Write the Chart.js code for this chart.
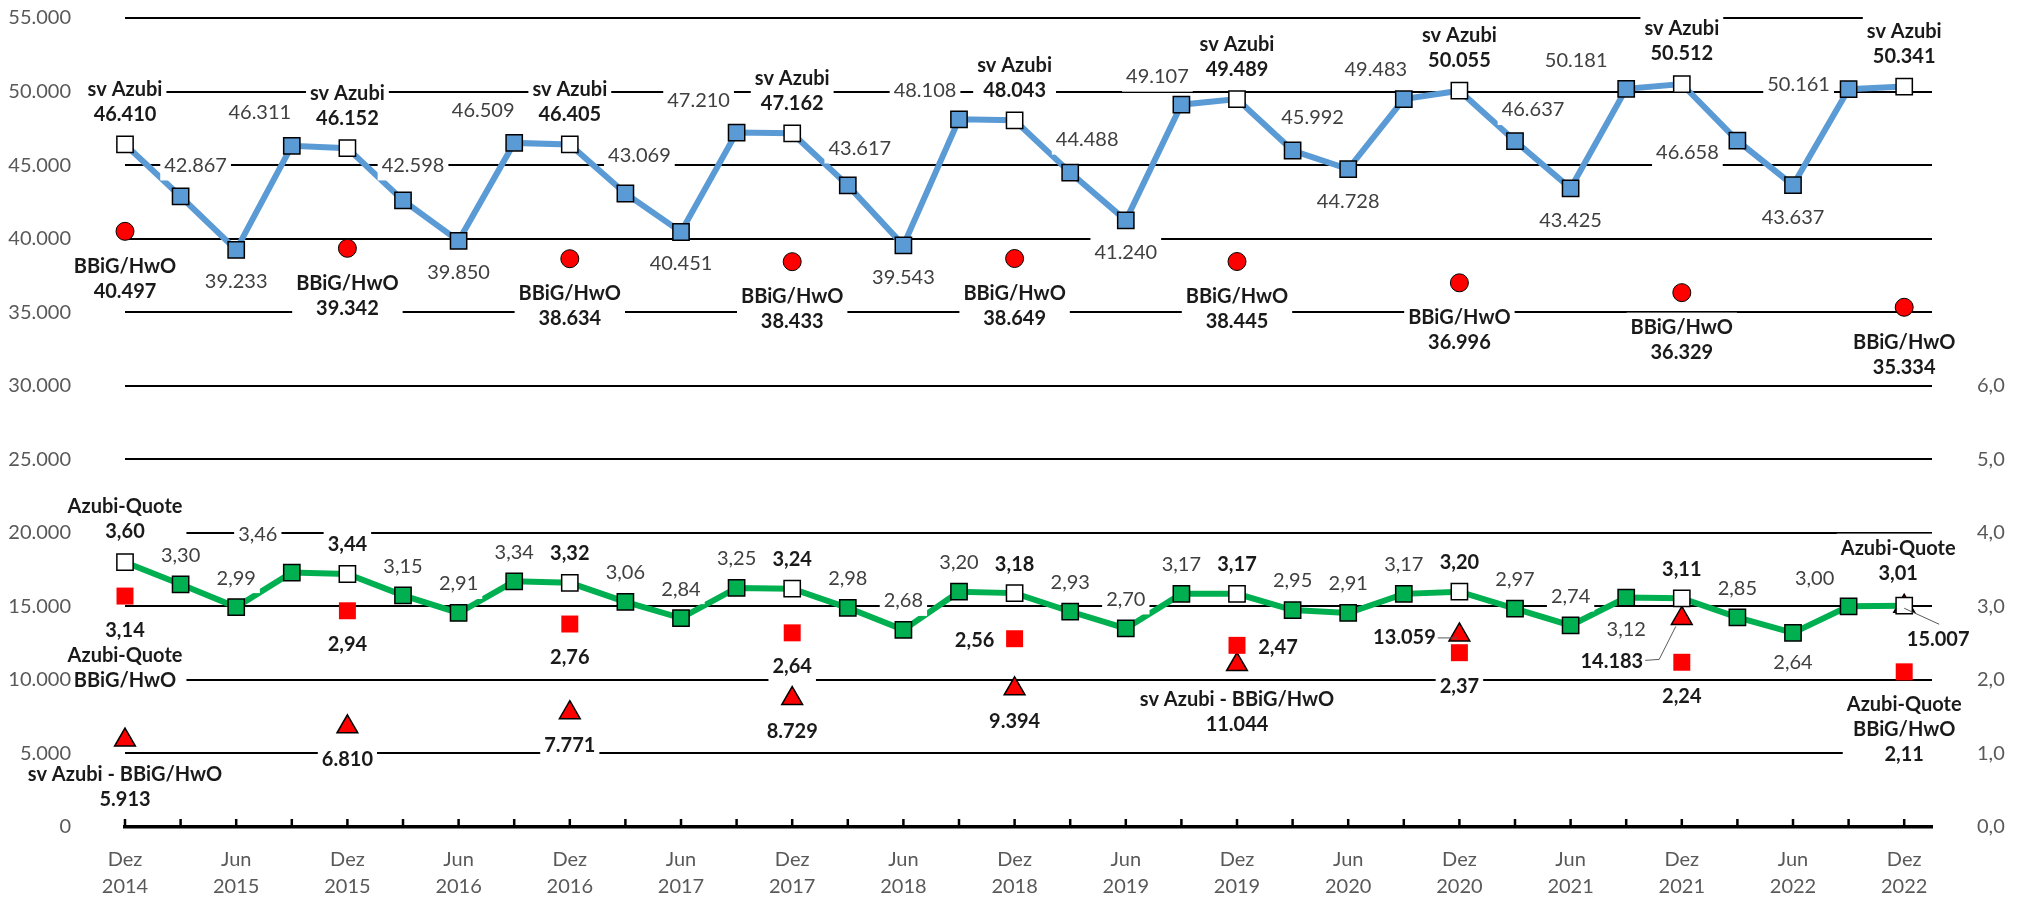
<!DOCTYPE html>
<html>
<head>
<meta charset="utf-8">
<script src="https://cdn.jsdelivr.net/npm/chart.js@4.4.1/dist/chart.umd.min.js"></script>
<style>
  html, body { margin: 0; padding: 0; background: #fff; }
</style>
</head>
<body>
<canvas id="chart" width="2025" height="897"></canvas>
<script>
// quarterly points, Dez 2014 .. Dez 2022
const quarters = [
    'Dez 2014', 'Mär 2015', 'Jun 2015', 'Sep 2015',
    'Dez 2015', 'Mär 2016', 'Jun 2016', 'Sep 2016',
    'Dez 2016', 'Mär 2017', 'Jun 2017', 'Sep 2017',
    'Dez 2017', 'Mär 2018', 'Jun 2018', 'Sep 2018',
    'Dez 2018', 'Mär 2019', 'Jun 2019', 'Sep 2019',
    'Dez 2019', 'Mär 2020', 'Jun 2020', 'Sep 2020',
    'Dez 2020', 'Mär 2021', 'Jun 2021', 'Sep 2021',
    'Dez 2021', 'Mär 2022', 'Jun 2022', 'Sep 2022',
    'Dez 2022'
];

// sv Azubi (left axis)
const svAzubi = [
    46410, 42867, 39233, 46311, 46152, 42598, 39850, 46509, 46405,
    43069, 40451, 47210, 47162, 43617, 39543, 48108, 48043, 44488,
    41240, 49107, 49489, 45992, 44728, 49483, 50055, 46637, 43425,
    50181, 50512, 46658, 43637, 50161, 50341
];

// Azubi-Quote in % (right axis)
const azubiQuote = [
    3.60, 3.30, 2.99, 3.46, 3.44, 3.15, 2.91, 3.34, 3.32,
    3.06, 2.84, 3.25, 3.24, 2.98, 2.68, 3.20, 3.18, 2.93,
    2.70, 3.17, 3.17, 2.95, 2.91, 3.17, 3.20, 2.97, 2.74,
    3.12, 3.11, 2.85, 2.64, 3.00, 3.01
];

// values only for the December points
const bbigHwo = [40497, 39342, 38634, 38433, 38649, 38445, 36996, 36329, 35334];
const quoteBbig = [3.14, 2.94, 2.76, 2.64, 2.56, 2.47, 2.37, 2.24, 2.11];
const svDiff = [5913, 6810, 7771, 8729, 9394, 11044, 13059, 14183, 15007];

const FONT = 'Lato, "Noto Sans", sans-serif';
const fmtInt = v => Math.round(v).toLocaleString('de-DE');
const fmtDec = (v, d) => v.toFixed(d).replace('.', ',');
const isDez = i => quarters[i].startsWith('Dez');
const dezIndex = k => k * 4;

function toPoints(arr) {
    return arr.map((v, i) => ({ x: i, y: v }));
}
function toDezPoints(arr) {
    return arr.map((v, k) => ({ x: dezIndex(k), y: v }));
}

// label offsets (dx, dy of first text line), exceptions only
const blueOffsets = {
    1: [15, -31], 3: [-32, -33], 5: [10, -35], 7: [-31, -32], 9: [14, -38],
    11: [-38, -32], 13: [12, -37], 15: [-34, -29], 17: [17, -33], 19: [-24, -28],
    21: [20, -33], 23: [-28, -30], 25: [18, -31], 27: [-50, -28], 29: [-50, 12],
    31: [-50, -5]
};
const greenOffsets = { 3: [-34, -38], 27: [0, 32], 30: [0, 30], 31: [-34, -28] };

const LINE_GAP = 25;
const BOX_HALF = 15;

function drawLabel(ctx, lines, cx, cy, bold) {
    ctx.save();
    ctx.font = (bold ? 'bold ' : '') + '20px ' + FONT;
    let w = 0;
    lines.forEach(t => { w = Math.max(w, ctx.measureText(t).width); });
    const top = cy - BOX_HALF;
    const h = (lines.length - 1) * LINE_GAP + 2 * BOX_HALF;
    ctx.fillStyle = '#fff';
    ctx.fillRect(cx - w / 2 - 4, top, w + 8, h);
    ctx.fillStyle = bold ? '#1a1a1a' : '#404040';
    ctx.textAlign = 'center';
    ctx.textBaseline = 'middle';
    lines.forEach((t, n) => ctx.fillText(t, cx, cy + n * LINE_GAP));
    ctx.restore();
    return { left: cx - w / 2 - 4, right: cx + w / 2 + 4, top: top, bottom: top + h };
}

function leader(ctx, pts) {
    ctx.save();
    ctx.strokeStyle = '#595959';
    ctx.lineWidth = 1;
    ctx.beginPath();
    pts.forEach((p, n) => n ? ctx.lineTo(p[0], p[1]) : ctx.moveTo(p[0], p[1]));
    ctx.stroke();
    ctx.restore();
}

const labelPlugin = {
    id: 'pointLabels',
    afterDatasetsDraw(chart) {
        const ctx = chart.ctx;
        const sx = chart.scales.x, sy = chart.scales.y, sr = chart.scales.y2;

        svAzubi.forEach((v, i) => {
            const px = sx.getPixelForValue(i), py = sy.getPixelForValue(v);
            if (isDez(i)) {
                drawLabel(ctx, ['sv Azubi', fmtInt(v)], px, py - 55, true);
            } else {
                const o = blueOffsets[i] || [0, 32];
                drawLabel(ctx, [fmtInt(v)], px + o[0], py + o[1], false);
            }
        });

        azubiQuote.forEach((v, i) => {
            const px = sx.getPixelForValue(i), py = sr.getPixelForValue(v);
            if (i === 0) {
                drawLabel(ctx, ['Azubi-Quote', fmtDec(v, 2)], px, py - 56, true);
            } else if (i === quarters.length - 1) {
                drawLabel(ctx, ['Azubi-Quote', fmtDec(v, 2)], px - 6, py - 57, true);
            } else if (isDez(i)) {
                drawLabel(ctx, [fmtDec(v, 2)], px, py - 29, true);
            } else {
                const o = greenOffsets[i] || [0, -29];
                drawLabel(ctx, [fmtDec(v, 2)], px + o[0], py + o[1], false);
            }
        });

        bbigHwo.forEach((v, k) => {
            const px = sx.getPixelForValue(dezIndex(k)), py = sy.getPixelForValue(v);
            drawLabel(ctx, ['BBiG/HwO', fmtInt(v)], px, py + 35, true);
        });

        const lastK = quoteBbig.length - 1;
        quoteBbig.forEach((v, k) => {
            const px = sx.getPixelForValue(dezIndex(k)), py = sr.getPixelForValue(v);
            const t = fmtDec(v, 2);
            if (k === 0) {
                drawLabel(ctx, [t, 'Azubi-Quote', 'BBiG/HwO'], px, py + 34, true);
            } else if (k === lastK) {
                drawLabel(ctx, ['Azubi-Quote', 'BBiG/HwO', t], px, py + 33, true);
            } else if (k === 4) {
                drawLabel(ctx, [t], px - 40, py + 2, true);
            } else if (k === 5) {
                drawLabel(ctx, [t], px + 41, py + 2, true);
            } else {
                drawLabel(ctx, [t], px, py + 34, true);
            }
        });

        svDiff.forEach((v, k) => {
            const px = sx.getPixelForValue(dezIndex(k)), py = sy.getPixelForValue(v);
            const t = fmtInt(v);
            if (k === 0 || k === 5) {
                drawLabel(ctx, ['sv Azubi - BBiG/HwO', t], px, py + 35, true);
            } else if (k === 6) {
                const b = drawLabel(ctx, [t], px - 55, py + 3, true);
                leader(ctx, [[b.right - 2, py + 3], [px - 2, py + 3]]);
            } else if (k === 7) {
                const b = drawLabel(ctx, [t], px - 70, py + 43, true);
                leader(ctx, [[b.right - 2, py + 42], [b.right + 12, py + 41], [px - 6, py + 8]]);
            } else if (k === lastK) {
                drawLabel(ctx, [t], px + 34, py + 33, true);
                leader(ctx, [[px, py + 2], [px + 35, py + 18]]);
            } else {
                drawLabel(ctx, [t], px, py + 33, true);
            }
        });
    }
};

// short tick marks standing on the x axis line
const innerTicks = {
    id: 'innerTicks',
    afterDatasetsDraw(chart) {
        const ctx = chart.ctx;
        const sx = chart.scales.x;
        const base = chart.chartArea.bottom;
        ctx.save();
        ctx.strokeStyle = '#000';
        ctx.lineWidth = 2.5;
        ctx.beginPath();
        quarters.forEach((q, i) => {
            const x = sx.getPixelForValue(i);
            ctx.moveTo(x, base);
            ctx.lineTo(x, base - 8);
        });
        ctx.stroke();
        ctx.restore();
    }
};

const tickFont = { family: FONT, size: 20 };

function fixWidth(w) {
    return s => {
        s.width = w;
        s.paddingTop = 10;
        s.paddingBottom = 10;
    };
}

new Chart(document.getElementById('chart'), {
    type: 'line',
    data: {
        datasets: [{
            label: 'Azubi-Quote',
            data: toPoints(azubiQuote),
            yAxisID: 'y2',
            order: 1,
            clip: false,
            borderColor: '#00B050',
            borderWidth: 6,
            tension: 0,
            pointStyle: 'rect',
            pointRadius: 11.5,
            pointBorderColor: '#000',
            pointBorderWidth: 1.5,
            pointBackgroundColor: ctx => isDez(ctx.dataIndex) ? '#fff' : '#00B050'
        }, {
            label: 'sv Azubi',
            data: toPoints(svAzubi),
            yAxisID: 'y',
            order: 2,
            clip: false,
            borderColor: '#5B9BD5',
            borderWidth: 6,
            tension: 0,
            pointStyle: 'rect',
            pointRadius: 11.5,
            pointBorderColor: '#000',
            pointBorderWidth: 1.5,
            pointBackgroundColor: ctx => isDez(ctx.dataIndex) ? '#fff' : '#5B9BD5'
        }, {
            label: 'Azubi-Quote BBiG/HwO',
            data: toDezPoints(quoteBbig),
            yAxisID: 'y2',
            order: 3,
            clip: false,
            showLine: false,
            pointStyle: 'rect',
            pointRadius: 12,
            pointBorderWidth: 0,
            pointBackgroundColor: '#FF0000'
        }, {
            label: 'BBiG/HwO',
            data: toDezPoints(bbigHwo),
            yAxisID: 'y',
            order: 4,
            clip: false,
            showLine: false,
            pointStyle: 'circle',
            pointRadius: 9,
            pointBorderColor: '#000',
            pointBorderWidth: 1,
            pointBackgroundColor: '#FF0000'
        }, {
            label: 'sv Azubi - BBiG/HwO',
            data: toDezPoints(svDiff),
            yAxisID: 'y',
            order: 5,
            clip: false,
            showLine: false,
            pointStyle: 'triangle',
            pointRadius: 12,
            pointBorderColor: '#000',
            pointBorderWidth: 1.5,
            pointBackgroundColor: '#FF0000'
        }]
    },
    options: {
        responsive: false,
        devicePixelRatio: 1,
        animation: false,
        layout: { padding: { top: 18 } },
        plugins: {
            legend: { display: false },
            tooltip: { enabled: false }
        },
        scales: {
            x: {
                type: 'linear',
                min: 0,
                max: quarters.length - 0.5,
                afterFit: s => { s.height = 70; },
                grid: { display: false, drawTicks: false },
                border: { display: true, color: '#000', width: 3.5 },
                ticks: {
                    stepSize: 1,
                    autoSkip: false,
                    includeBounds: false,
                    maxRotation: 0,
                    padding: 19,
                    color: '#595959',
                    font: Object.assign({ lineHeight: 1.35 }, tickFont),
                    callback: v => {
                        const q = quarters[v];
                        if (!q || q.startsWith('Mär') || q.startsWith('Sep')) return '';
                        return q.split(' ');
                    }
                }
            },
            y: {
                position: 'left',
                min: 0,
                max: 55000,
                afterFit: fixWidth(125),
                grid: { color: '#000', lineWidth: 2, drawTicks: false },
                border: { display: false },
                ticks: {
                    z: 1,
                    stepSize: 5000,
                    padding: 54,
                    color: '#595959',
                    font: tickFont,
                    callback: v => fmtInt(v)
                }
            },
            y2: {
                position: 'right',
                min: 0,
                max: 11,
                afterFit: fixWidth(93),
                grid: { display: false, drawTicks: false },
                border: { display: false },
                ticks: {
                    z: 1,
                    stepSize: 1,
                    padding: 45,
                    color: '#595959',
                    font: tickFont,
                    callback: v => v <= 6 ? fmtDec(v, 1) : ''
                }
            }
        }
    },
    plugins: [innerTicks, labelPlugin]
});
</script>
</body>
</html>
